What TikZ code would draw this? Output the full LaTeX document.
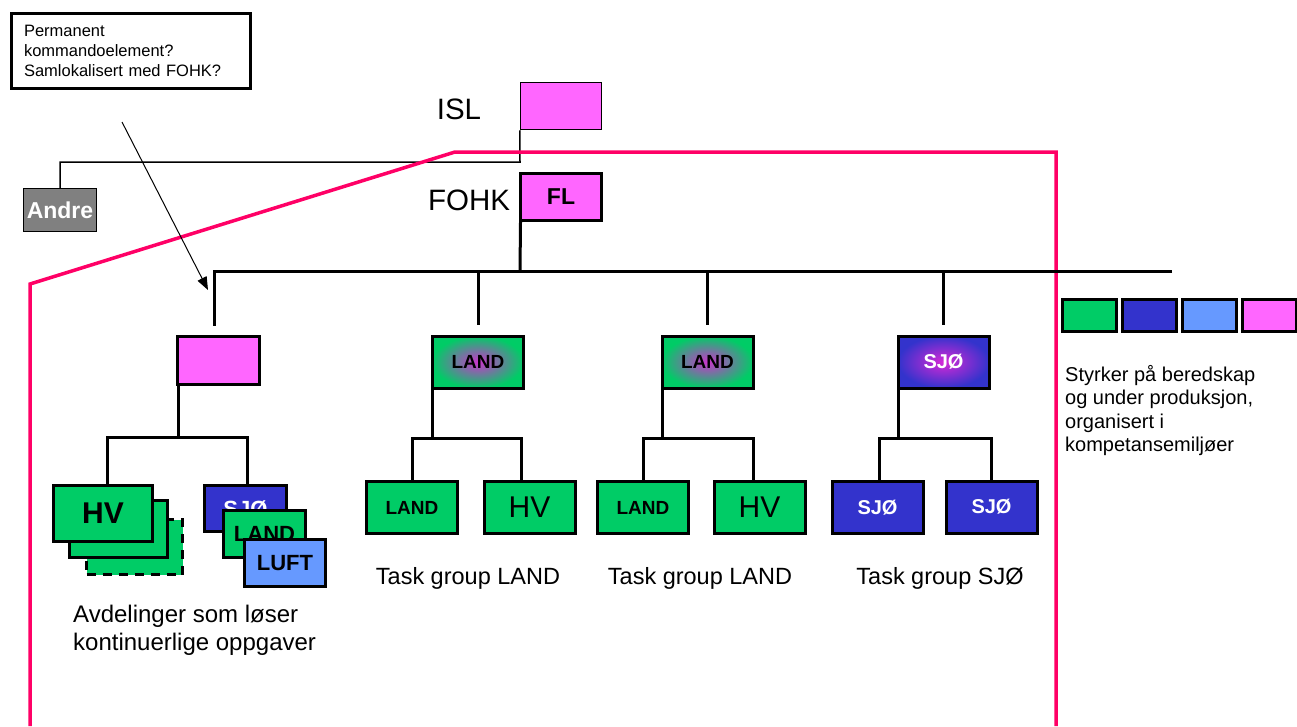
\documentclass[tikz,border=0pt]{standalone}
\usepackage{fontspec}
\setmainfont{Liberation Sans}
\usepackage{tikz}
\usetikzlibrary{arrows.meta,positioning}
\definecolor{fmagenta}{HTML}{FF66FF}
\definecolor{fgreen}{HTML}{00CC66}
\definecolor{fblue}{HTML}{3333CC}
\definecolor{flight}{HTML}{6699FF}
\definecolor{fgray}{HTML}{808080}
\definecolor{fpink}{HTML}{FF0066}
\definecolor{fpurple}{HTML}{CC33CC}
\tikzstyle{unit} = [rectangle, draw, line width=3pt, inner sep=0pt]
\tikzstyle{flag} = [rectangle, draw, line width=1.5pt, inner sep=0pt, fill=fmagenta]
\tikzstyle{landbox} = [unit, fill=fgreen, minimum width=91pt, minimum height=52pt,
  font=\bfseries\fontsize{19}{19}\selectfont]
\tikzstyle{hvbox} = [unit, fill=fgreen, minimum width=91pt, minimum height=52pt,
  font=\fontsize{30}{30}\selectfont]
\tikzstyle{sjobox} = [unit, fill=fblue, text=white, minimum width=91pt, minimum height=52pt,
  font=\bfseries\fontsize{20}{20}\selectfont]
\tikzstyle{legendbox} = [unit, minimum width=54pt, minimum height=32pt]
\tikzstyle{caption} = [inner sep=0pt, font=\fontsize{23.5}{28}\selectfont]
\tikzstyle{biglabel} = [inner sep=0pt, font=\fontsize{29.5}{30}\selectfont]

\begin{document}
\begin{tikzpicture}[x=1pt,y=-1pt,
  thickline/.style={line width=3pt},
  thinline/.style={line width=1.5pt}]
  \useasboundingbox (0,0) rectangle (1297,726);

  % note and arrow
  \node[unit, minimum width=239pt, minimum height=75pt, text width=214pt, align=left,
    font=\fontsize{16.5}{20}\selectfont] (note) at (131,51)
    {Permanent\\kommandoelement?\\Samlokalisert med FOHK?};
  \coordinate (arrowtail) at (122,122);
  \coordinate (arrowhead) at (208,290);

  % top of the chain
  \node[flag, minimum width=81pt, minimum height=47pt] (isl) at (561,106) {};
  \node[biglabel] (isllabel) at (459,109) {ISL};
  \node[rectangle, draw, line width=1.5pt, fill=fgray, text=white, inner sep=0pt,
    minimum width=73pt, minimum height=43pt,
    font=\bfseries\fontsize{23}{23}\selectfont] (andre) at (60,210) {Andre};
  \coordinate (islfoot) at (520,162);
  \draw[thinline] (andre.north) |- (islfoot) -- (isl.south west);

  % frame
  \draw[fpink, line width=3.5pt] (30,726) -- (30,284) -- (455,152) -- (1056,152) -- (1056,726);
  \draw[line width=1pt, -{Triangle[length=13pt,width=10pt]}] (arrowtail) -- (arrowhead);

  \node[unit, fill=fmagenta, minimum width=81pt, minimum height=47pt,
    font=\bfseries\fontsize{23}{23}\selectfont] (fl) at (561,197) {FL};
  \node[biglabel] (fohk) at (469,200) {FOHK};

  % main bar
  \coordinate (barL) at (214,271);
  \coordinate (barR) at (1172,271);
  \draw[thickline] (fl.south west) ++(1.5,0) -- (520,271);

  % second level
  \node[flag, line width=3pt, minimum width=82pt, minimum height=48pt] (cmd) at (218.5,360.5) {};
  \node[landbox, inner color=fpurple, outer color=fgreen] (land1) at (478,362) {LAND};
  \node[landbox, inner color=fpurple, outer color=fgreen] (land2) at (707.5,362) {LAND};
  \node[sjobox, inner color=fpurple!80!magenta, outer color=fblue] (sjo) at (943.5,362) {SJØ};

  \draw[thickline] (barR) -- (barL) -- ++(0,55);
  \draw[thickline, shorten >=10pt] (land1.north |- barL) -- (land1.north);
  \draw[thickline, shorten >=10pt] (land2.north |- barL) -- (land2.north);
  \draw[thickline, shorten >=10pt] (sjo.north |- barL) -- (sjo.north);

  % continuous units
  \node[unit, dashed, dash pattern=on 9pt off 7pt, fill=fgreen, minimum width=96pt, minimum height=55pt] (hvc) at (134.5,547) {};
  \node[unit, fill=fgreen, minimum width=98pt, minimum height=57pt] (hvb) at (118.5,529) {};
  \node[unit, fill=fgreen, minimum width=99pt, minimum height=56pt,
    font=\bfseries\fontsize{30}{30}\selectfont] (hva) at (103,513.5) {HV};
  \node[sjobox, minimum width=82pt, minimum height=46pt, font=\bfseries\fontsize{22}{22}\selectfont] (sjoa) at (245.5,508.5) {SJØ};
  \node[landbox, minimum width=82pt, minimum height=47pt, font=\bfseries\fontsize{22}{22}\selectfont] (landa) at (264.5,534) {LAND};
  \node[unit, fill=flight, minimum width=81pt, minimum height=47pt,
    font=\bfseries\fontsize{22}{22}\selectfont] (lufta) at (285,563) {LUFT};

  \coordinate (cmdfork) at (178,437);
  \draw[thickline] ([xshift=2pt]cmd.south west) -- (cmdfork);
  \draw[thickline] ([xshift=4pt]hva.north) |- (cmdfork) -| ([xshift=1.5pt]sjoa.north);

  % task groups
  \node[landbox] (la1) at (412,507.5) {LAND};
  \node[hvbox] (hv1) at (529.5,507.5) {HV};
  \node[landbox] (la2) at (643,507.5) {LAND};
  \node[hvbox] (hv2) at (759.5,507.5) {HV};
  \node[sjobox] (sj1) at (877.5,507.5) {SJØ};
  \node[sjobox] (sj2) at (991.5,507) {SJØ};

  \draw[thickline] ([xshift=1.5pt]land1.south west) -- ++(0,49) coordinate (fork1);
  \draw[thickline] (la1.north) |- (fork1) -| ([xshift=-8pt]hv1.north);
  \draw[thickline] ([xshift=1.5pt]land2.south west) -- ++(0,49) coordinate (fork2);
  \draw[thickline] (la2.north) |- (fork2) -| ([xshift=-6.5pt]hv2.north);
  \draw[thickline] ([xshift=1.5pt]sjo.south west) -- ++(0,49) coordinate (fork3);
  \draw[thickline] ([xshift=1.5pt]sj1.north) |- (fork3) -| (sj2.north);

  \node[caption] (tg1) at (468,578) {Task group LAND};
  \node[caption] (tg2) at (700,578) {Task group LAND};
  \node[caption] (tg3) at (940,578) {Task group SJØ};
  \node[caption, align=left, anchor=west, font=\fontsize{24}{28}\selectfont] (avd) at (73,630)
    {Avdelinger som løser\\kontinuerlige oppgaver};

  % legend
  \node[legendbox, fill=fgreen] (leg1) at (1089.5,315.5) {};
  \node[legendbox, fill=fblue, right=3pt of leg1] (leg2) {};
  \node[legendbox, fill=flight, right=3pt of leg2] (leg3) {};
  \node[legendbox, fill=fmagenta, right=3pt of leg3] (leg4) {};
  \node[caption, align=left, anchor=north west, font=\fontsize{20}{23.5}\selectfont] (legtext) at (1065,365)
    {Styrker på beredskap\\og under produksjon,\\organisert i\\kompetansemiljøer};
\end{tikzpicture}
\end{document}
